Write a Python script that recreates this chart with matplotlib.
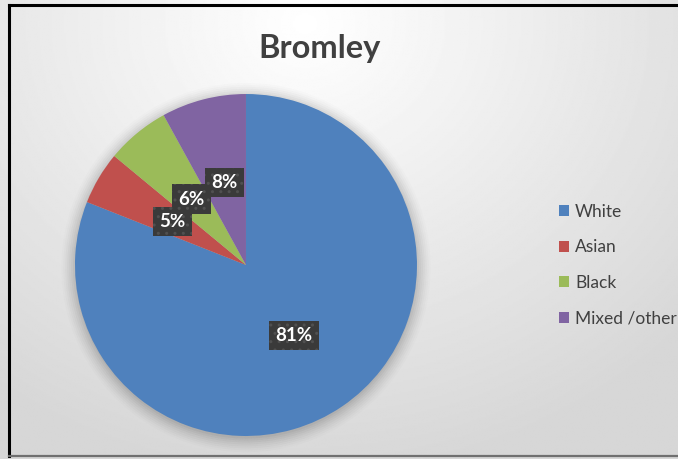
import numpy as np
import matplotlib.pyplot as plt
from matplotlib.patches import Patch, Circle
from matplotlib.lines import Line2D

# ethnic group shares for Bromley (%)
groups = ['White', 'Asian', 'Black', 'Mixed /other']
shares = [81, 5, 6, 8]
colors = ['#4F81BD', '#C0504D', '#9BBB59', '#8064A2']

plt.rcParams['font.family'] = ['Lato', 'DejaVu Sans']

fig = plt.figure(figsize=(6.78, 4.59), dpi=100)

# soft grey background, light at the top
bg = fig.add_axes([0, 0, 1, 1])
yy, xx = np.mgrid[0:1:300j, 0:1:450j]
dist = np.sqrt(((xx - 0.45) * 1.3) ** 2 + (yy - 0.05) ** 2)
shade = 1.0 - 0.16 * np.clip(dist / 1.0, 0, 1)
bg.imshow(shade, cmap='gray', vmin=0, vmax=1, aspect='auto', extent=[0, 1, 1, 0])
bg.set_axis_off()

ax = fig.add_axes([0.1106, 0.0501, 0.5044, 0.7451])

# faint shadow around the pie
for r, a in zip(np.linspace(1.08, 1.0, 8), np.linspace(0.012, 0.04, 8)):
    ax.add_patch(Circle((0, -0.015), r, color='black', alpha=a, lw=0,
                        zorder=0, clip_on=False))

wedges, texts, autotexts = ax.pie(
    shares, colors=colors, startangle=90, counterclock=False,
    autopct='%d%%', pctdistance=0.5, radius=1.0,
    wedgeprops=dict(linewidth=0),
    textprops=dict(color='white', fontsize=13.5, fontweight='bold'))
for w in wedges:
    w.set_zorder(1)
for t in autotexts:
    t.set_zorder(5)
    t.set_bbox(dict(boxstyle='square,pad=0.33', facecolor='#3a3a3a',
                    edgecolor='#505050', hatch='..', linewidth=0))
ax.set_xlim(-1, 1)
ax.set_ylim(-1, 1)
ax.set_aspect('equal')
ax.set_axis_off()

fig.text(0.472, 0.895, 'Bromley', ha='center', va='center',
         fontsize=23.5, fontweight='bold', color='#404040')

handles = [Patch(facecolor=c, edgecolor='none') for c in colors]
fig.legend(handles, groups, loc='center left', bbox_to_anchor=(0.824, 0.4227),
           frameon=False, fontsize=12.5, labelcolor='#404040',
           handlelength=0.6, handleheight=0.6, handletextpad=0.35,
           labelspacing=1.13, borderpad=0, borderaxespad=0)

# frame lines
fig.add_artist(Line2D([0.013, 1.0], [0.989, 0.989], color='black', lw=2.2))
fig.add_artist(Line2D([0.0135, 0.0135], [0.006, 0.99], color='black', lw=2.2))
fig.add_artist(Line2D([0.013, 1.0], [0.006, 0.006], color='#707070', lw=1.6))

fig.savefig('out.png', dpi=100)
